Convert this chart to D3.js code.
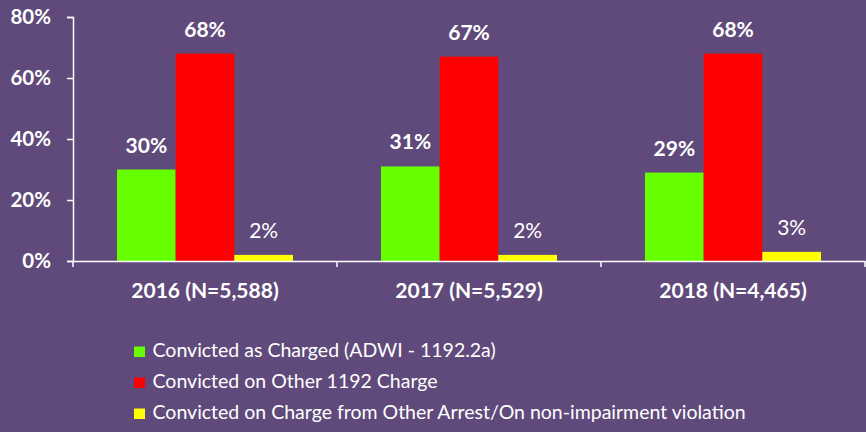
<!DOCTYPE html>
<html>
<head>
<meta charset="utf-8">
<script src="https://cdn.jsdelivr.net/npm/d3@7"></script>
<style>
  body { margin: 0; background: #604A7B; }
  svg { display: block; font-family: Lato, "Open Sans", sans-serif; }
</style>
</head>
<body>
<div id="chart"></div>
<script>
// chart data
var years = ["2016 (N=5,588)", "2017 (N=5,529)", "2018 (N=4,465)"];
var seriesNames = [
  "Convicted as Charged (ADWI - 1192.2a)",
  "Convicted on Other 1192 Charge",
  "Convicted on Charge from Other Arrest/On non-impairment violation"
];
var asCharged = [30, 31, 29];
var other1192 = [68, 67, 68];
var otherArrest = [2, 2, 3];
var yTicks = [0, 20, 40, 60, 80];

var seriesValues = [asCharged, other1192, otherArrest];
var colors = ["#66FF00", "#FF0000", "#FFFF00"];
var boldLabels = [true, true, false];

var svgWidth = 866;
var svgHeight = 432;

var margin = { top: 17, right: 1, bottom: 171, left: 73 };
var width = svgWidth - margin.left - margin.right;
var height = svgHeight - margin.top - margin.bottom;

var svg = d3.select("#chart")
  .append("svg")
  .attr("width", svgWidth)
  .attr("height", svgHeight);

svg.append("rect")
  .attr("width", svgWidth)
  .attr("height", svgHeight)
  .attr("fill", "#604A7B");

var chartGroup = svg.append("g")
  .attr("transform", `translate(${margin.left}, ${margin.top})`);

// scales
var x0 = d3.scaleBand()
  .domain(years)
  .range([0, width])
  .paddingInner(0)
  .paddingOuter(0);

var x1 = d3.scaleBand()
  .domain(d3.range(seriesNames.length))
  .range([44, x0.bandwidth() - 44]);

var y = d3.scaleLinear()
  .domain([0, 80])
  .range([height, 0]);

// bars
years.forEach(function (yr, i) {
  var g = chartGroup.append("g")
    .attr("transform", `translate(${x0(yr)}, 0)`);

  seriesValues.forEach(function (vals, s) {
    g.append("rect")
      .attr("x", x1(s))
      .attr("y", y(vals[i]))
      .attr("width", x1.bandwidth())
      .attr("height", height - y(vals[i]))
      .attr("fill", colors[s]);

    g.append("text")
      .attr("x", x1(s) + x1.bandwidth() / 2)
      .attr("y", y(vals[i]) - 17)
      .attr("text-anchor", "middle")
      .attr("fill", "white")
      .style("font-size", "21px")
      .style("font-weight", boldLabels[s] ? "bold" : "normal")
      .text(vals[i] + "%");
  });
});

// y axis
var leftAxis = d3.axisLeft(y)
  .tickValues(yTicks)
  .tickSize(6)
  .tickPadding(16)
  .tickFormat(d => d + "%");

var yAxis = chartGroup.append("g")
  .call(leftAxis);

yAxis.select(".domain").attr("stroke", "white").attr("stroke-width", 1.5);
yAxis.selectAll(".tick line").attr("stroke", "white").attr("stroke-width", 1.5);
yAxis.selectAll(".tick text")
  .attr("fill", "white")
  .style("font-size", "20.5px")
  .style("font-weight", "bold")
  .style("font-family", "Lato, sans-serif");

// x axis
var bottomAxis = d3.axisBottom(x0).tickSize(0);

var xAxis = chartGroup.append("g")
  .attr("transform", `translate(0, ${height})`)
  .call(bottomAxis);

xAxis.select(".domain").attr("stroke", "white").attr("stroke-width", 1.5);
xAxis.selectAll(".tick text")
  .attr("y", 37)
  .attr("dy", null)
  .attr("fill", "white")
  .style("font-size", "21px")
  .style("font-weight", "bold")
  .style("font-family", "Lato, sans-serif");

// category divider ticks
var dividers = years.map(d => x0(d)).concat([width]);
xAxis.selectAll("line.divider")
  .data(dividers)
  .enter()
  .append("line")
  .attr("class", "divider")
  .attr("x1", d => d)
  .attr("x2", d => d)
  .attr("y1", 0)
  .attr("y2", 6)
  .attr("stroke", "white")
  .attr("stroke-width", 1.5);

// legend
var legend = svg.append("g")
  .attr("transform", "translate(134, 357)");

seriesNames.forEach(function (name, s) {
  var row = legend.append("g")
    .attr("transform", `translate(0, ${s * 31})`);
  row.append("rect")
    .attr("x", 0)
    .attr("y", -10.5)
    .attr("width", 11)
    .attr("height", 10.5)
    .attr("fill", colors[s]);
  row.append("text")
    .attr("x", 18.5)
    .attr("y", 0)
    .attr("fill", "white")
    .style("font-size", "19.5px")
    .text(name);
});
</script>
</body>
</html>
